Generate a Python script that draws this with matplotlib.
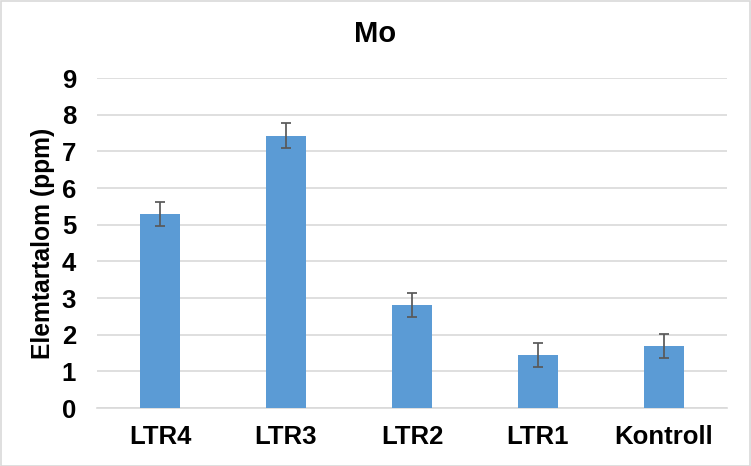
import numpy as np
import matplotlib.pyplot as plt
from matplotlib.patches import Rectangle

plt.rcParams['font.family'] = ['Liberation Sans', 'DejaVu Sans']

# data
categories = ["LTR4", "LTR3", "LTR2", "LTR1", "Kontroll"]
values = [5.30, 7.43, 2.82, 1.44, 1.70]
errors = [0.33, 0.33, 0.33, 0.32, 0.33]
y_ticks = list(range(0, 10))

W, H = 751, 466
fig = plt.figure(figsize=(W / 100, H / 100), dpi=100)
ax = fig.add_axes([97 / W, 1 - 408 / H, 630 / W, 330 / H])

x = np.arange(len(categories))
ax.bar(x, values, width=0.32, color="#5B9BD5", zorder=3)
ax.errorbar(x, values, yerr=errors, fmt="none", ecolor="#595959",
            elinewidth=1.25, capsize=3.6, capthick=1.25, zorder=4)

ax.set_xlim(-0.5, len(categories) - 0.5)
ax.set_ylim(0, 9)
ax.set_yticks(y_ticks)
ax.set_xticks(x)
ax.set_xticklabels(categories, fontsize=18.5, fontweight="bold")
ax.set_yticklabels([str(t) for t in y_ticks], fontsize=18.5, fontweight="bold")
ax.tick_params(axis="x", length=0, pad=12, colors="black")
ax.tick_params(axis="y", length=0, pad=15, colors="black")
ax.grid(axis="y", color="#D9D9D9", linewidth=1.2, zorder=0)
for s in ["top", "right", "left"]:
    ax.spines[s].set_visible(False)
ax.spines["bottom"].set_color("#D9D9D9")
ax.spines["bottom"].set_linewidth(1.2)

ax.set_ylabel("Elemtartalom (ppm)", fontsize=17.7, fontweight="bold", labelpad=5)
fig.text(0.5, 1 - 34 / H, "Mo", ha="center", va="center",
         fontsize=21, fontweight="bold")

fig.patches.append(Rectangle((0.5 / W, 0.5 / H), 1 - 1.5 / W, 1 - 1.5 / H,
                             transform=fig.transFigure, fill=False,
                             edgecolor="#D9D9D9", linewidth=1.2))

fig.savefig("out.png", dpi=100)
